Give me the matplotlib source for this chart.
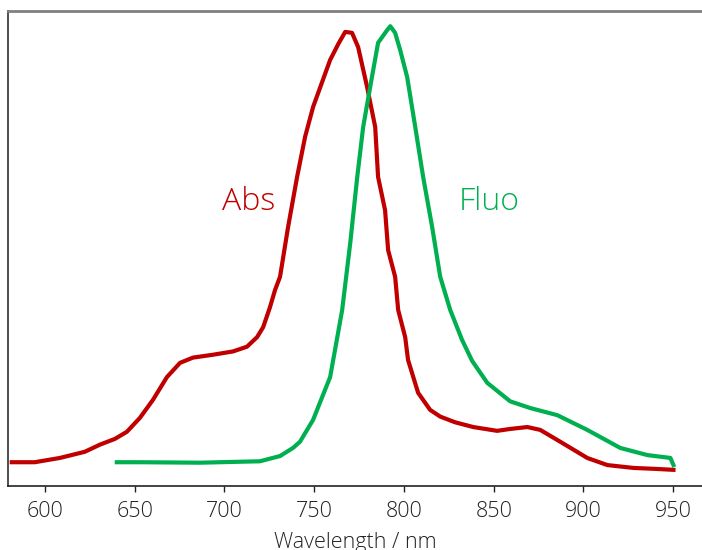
import matplotlib.pyplot as plt

# Abs spectrum (wavelength nm, normalized intensity)
abs_nm = [581.6, 594.4, 608.4, 622.3, 630.7, 639.0, 645.7, 652.9, 660.2, 668.0,
          675.3, 682.5, 693.6, 704.8, 712.6, 718.2, 721.6, 725.4, 728.2, 731.0,
          735.5, 740.5, 745.0, 749.4, 754.0, 758.9, 763.5, 767.3, 771.1, 774.5,
          779.5, 784.0, 785.6, 789.5, 791.2, 795.1, 796.8, 800.7, 802.3, 807.9,
          814.6, 820.2, 828.5, 838.6, 851.9, 859.2, 868.7, 875.9, 887.1, 902.1,
          913.3, 927.8, 940.1, 950.1]
abs_y = [0.050, 0.050, 0.059, 0.072, 0.087, 0.099, 0.114, 0.143, 0.181, 0.229,
         0.259, 0.270, 0.276, 0.283, 0.293, 0.313, 0.334, 0.376, 0.412, 0.440,
         0.545, 0.650, 0.735, 0.797, 0.845, 0.896, 0.930, 0.955, 0.953, 0.923,
         0.839, 0.755, 0.650, 0.580, 0.496, 0.440, 0.370, 0.313, 0.265, 0.196,
         0.160, 0.146, 0.134, 0.124, 0.116, 0.120, 0.124, 0.118, 0.093, 0.059,
         0.044, 0.038, 0.036, 0.034]

# Fluo spectrum
fluo_nm = [640.1, 653.0, 686.4, 719.8, 731.0, 738.2, 742.1, 749.4, 758.9, 765.6,
           770.1, 774.0, 777.3, 781.2, 785.6, 790.7, 792.4, 795.1, 797.9, 801.8,
           806.3, 810.7, 815.7, 820.2, 825.8, 832.4, 838.0, 846.4, 859.2, 870.3,
           885.4, 902.1, 920.5, 935.6, 948.4, 950.1]
fluo_y = [0.050, 0.050, 0.049, 0.052, 0.063, 0.080, 0.093, 0.139, 0.229, 0.370,
          0.511, 0.650, 0.755, 0.839, 0.932, 0.959, 0.967, 0.953, 0.917, 0.860,
          0.755, 0.650, 0.545, 0.440, 0.370, 0.307, 0.263, 0.217, 0.178, 0.164,
          0.149, 0.118, 0.080, 0.065, 0.059, 0.044]

xticks = [600, 650, 700, 750, 800, 850, 900, 950]

plt.rcParams['font.family'] = ['Open Sans', 'DejaVu Sans']

fig = plt.figure(figsize=(7.02, 5.5), dpi=100)
ax = fig.add_axes([8/702, 64/550, 694/702, 475.5/550])

ax.plot(abs_nm, abs_y, color='#C00000', lw=3, solid_joinstyle='round')
ax.plot(fluo_nm, fluo_y, color='#00B050', lw=3, solid_joinstyle='round')

ax.text(713.7, 0.597, 'Abs', color='#C00000', fontsize=23, ha='center', va='center', fontweight='light')
ax.text(847.5, 0.597, 'Fluo', color='#00B050', fontsize=23, ha='center', va='center', fontweight='light')

ax.set_xlim(579.5, 966)
ax.set_ylim(0, 1)
ax.set_xticks(xticks)
ax.set_yticks([])
ax.tick_params(axis='x', direction='out', length=4, width=1, labelsize=15.5, pad=7, colors='#222222')
ax.set_xlabel('Wavelength / nm', fontsize=15.5, labelpad=7, color='#222222', fontweight='light')
for lab in ax.get_xticklabels():
    lab.set_fontweight('light')

ax.spines['right'].set_visible(False)
ax.spines['top'].set_color('#808080')
ax.spines['top'].set_linewidth(2)
ax.spines['left'].set_color('#404040')
ax.spines['left'].set_linewidth(1.3)
ax.spines['bottom'].set_color('#222222')
ax.spines['bottom'].set_linewidth(1.2)

fig.savefig('out.png', dpi=100)
